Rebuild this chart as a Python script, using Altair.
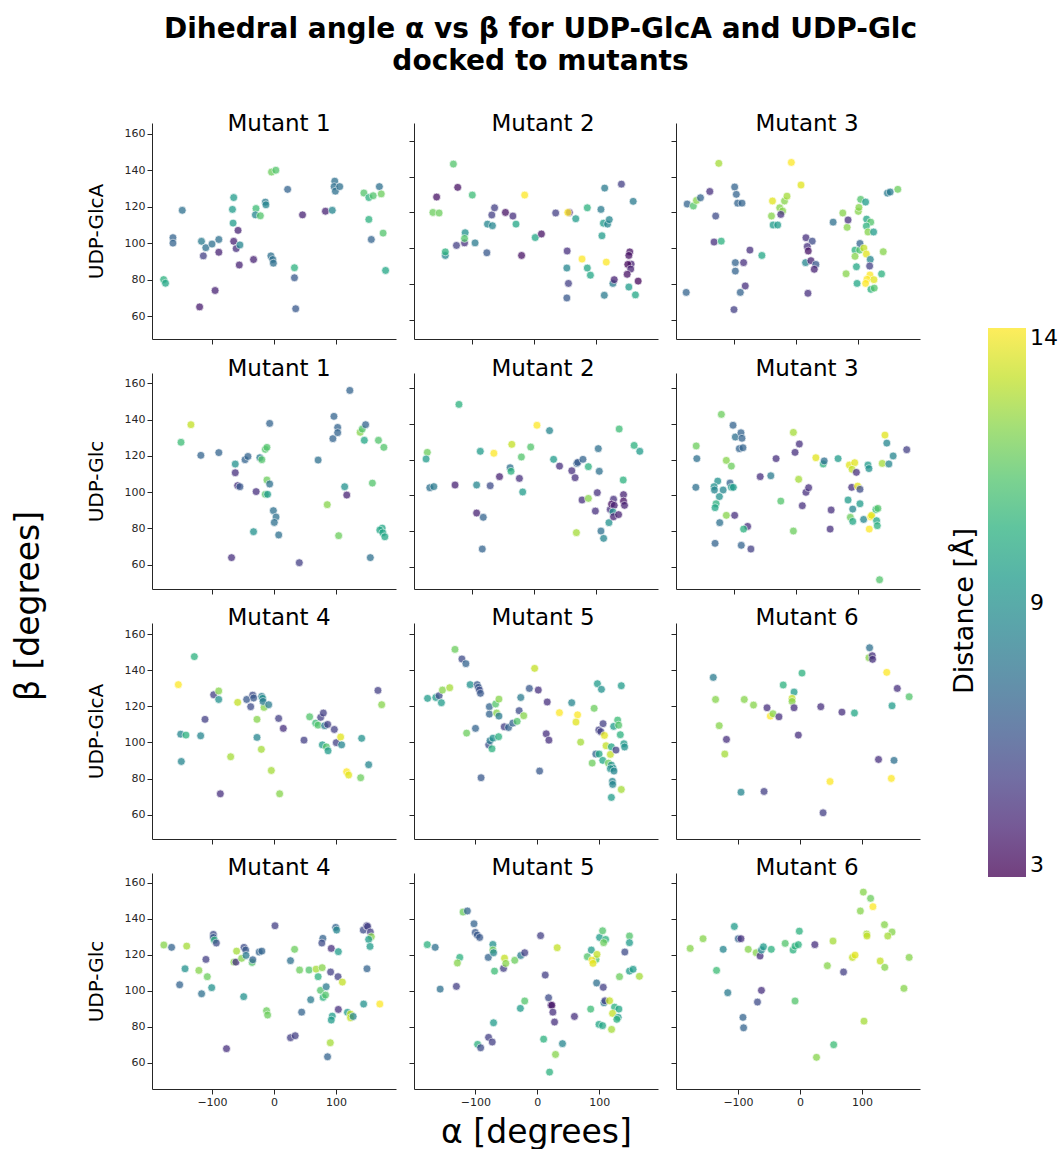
import altair as alt
import pandas as pd

TITLE_LINES = ["Dihedral angle α vs β for UDP-GlcA and UDP-Glc", "docked to mutants"]
ROW_LABELS = ["UDP-GlcA", "UDP-Glc", "UDP-GlcA", "UDP-Glc"]
PANEL_TITLES = [["Mutant 1", "Mutant 2", "Mutant 3"],
                ["Mutant 1", "Mutant 2", "Mutant 3"],
                ["Mutant 4", "Mutant 5", "Mutant 6"],
                ["Mutant 4", "Mutant 5", "Mutant 6"]]
X_TICKS = [-100, 0, 100]
Y_TICKS = [60, 80, 100, 120, 140, 160]
COLOR_TICKS = [3, 8.5, 14]
# axis extents of every panel, as they are drawn in the original figure
X_DOMAINS = [[[-196.8, 196.8], [-193.5, 200.0], [-193.0, 200.5]],
             [[-196.8, 196.8], [-193.5, 200.0], [-193.0, 200.5]],
             [[-196.8, 196.8], [-198.9, 194.7], [-200.0, 193.5]],
             [[-196.8, 196.8], [-198.9, 194.7], [-200.0, 193.5]]]
Y_DOMAINS = [[[47.4, 165.9], [49.4, 169.9], [49.4, 169.9]],
             [[46.6, 165.7], [47.5, 168.6], [47.5, 168.6]],
             [[46.6, 166.1], [46.6, 166.1], [46.6, 166.1]],
             [[45.4, 165.4], [45.4, 165.4], [45.4, 165.4]]]

# (alpha, beta, distance) per panel
M1_GLCA = [(-178, 80, 10), (-175, 78, 9.5), (-163, 103, 6.5), (-163, 100, 6.5), (-148, 118, 7),
           (-120, 65, 3.8), (-117, 101, 7.5), (-114, 93, 5), (-110, 97.5, 7), (-100, 99.5, 7),
           (-95, 74, 4), (-89, 102, 7), (-89, 95, 4), (-67, 118.5, 9), (-65, 125, 9), (-66, 111, 9),
           (-65, 101, 4), (-58, 107, 4), (-61, 97, 4.5), (-55, 99, 8), (-56, 88, 4), (-33, 91, 4),
           (-29, 119, 10.5), (-30, 115.5, 8), (-22, 115, 11), (-14, 122.5, 7.5), (-13, 121, 8),
           (-4, 139, 11.5), (3, 140, 11), (-5, 93, 7), (-2, 91, 7), (-1, 89, 7), (22, 129.5, 6.5),
           (33, 86.5, 10), (33, 81, 6), (35, 64, 6), (46, 115.5, 4), (83, 117.5, 4), (94, 118, 8),
           (98, 134, 7), (97, 131, 7), (99, 128.5, 7), (106, 131, 7), (145, 127.5, 11), (153, 125, 10),
           (160, 126, 11), (170, 131, 7), (173, 127, 11.5), (153, 113, 10), (157, 102, 6.5),
           (176, 105.5, 11), (180, 85, 9.5)]
M2_GLCA = [(-163, 120, 11.5), (-153, 119.7, 11.5), (-157, 128.6, 3.5), (-143, 96, 8), (-143, 98, 10),
           (-130, 147, 11), (-123, 134, 3.5), (-125, 101.6, 5), (-112, 103, 4.5), (-111, 108.7, 8.5),
           (-112, 105.5, 11), (-99.5, 129.7, 10.5), (-95, 103, 7.5), (-76, 97.5, 6), (-75, 113.5, 8),
           (-67, 112.6, 8), (-68, 118.6, 5), (-63.6, 122.6, 5), (-46, 120, 3.5), (-34, 118, 4.5),
           (-29, 113.5, 9.5), (-20, 96, 3.5), (-15, 129.7, 14), (2, 106, 9.5), (12, 108, 3.5),
           (35, 119.7, 5), (57, 120, 4), (54.5, 120, 14), (53.5, 98.5, 4.5), (53, 89, 8),
           (55.6, 80.4, 5), (53, 72.3, 6), (67.4, 116.5, 9), (77.5, 94, 14), (86, 122.6, 10),
           (86, 89, 9.5), (91, 85, 9.5), (108, 121.7, 7.5), (114, 133.6, 7.5), (112, 114, 9),
           (118.7, 113.5, 8), (121.4, 116, 8), (109.6, 107, 9), (116.6, 92.3, 14), (113.4, 73.8, 7.5),
           (127.3, 80.4, 7.5), (129.4, 82.5, 4), (141, 135.8, 5), (160, 126.2, 7.5), (154.5, 98, 3.5),
           (153, 96, 3.5), (156.7, 91.2, 4), (151.3, 91, 3.2), (156, 88.4, 4), (150.3, 85.5, 3.5),
           (153, 78.4, 9), (163.6, 74, 9.5), (168, 81.7, 3.2)]
M3_GLCA = [(-175, 124.7, 6.5), (-165, 123.6, 11), (-160, 126.7, 12), (-153.5, 128.2, 6.5),
           (-138.5, 131.7, 4.5), (-124, 147.4, 12.5), (-129, 118, 5.5), (-131.6, 103.5, 4.5),
           (-120, 104, 10), (-176.5, 75.4, 6.5), (-98.4, 134.2, 6.5), (-95.7, 130.1, 6.5),
           (-93.6, 125.2, 6.5), (-86.6, 125.2, 6.5), (-97.3, 92, 6.5), (-84, 92, 4.5), (-97.3, 87.3, 6.5),
           (-73.8, 99, 4.5), (-81.3, 79, 4.5), (-89.3, 75.4, 6.5), (-99.5, 65.8, 5), (-54.5, 96, 9.5),
           (-37.4, 126.4, 13.5), (-25.7, 122.6, 12), (-18, 126.4, 12), (-14, 129.1, 12.5),
           (-7, 147.9, 14), (8.6, 135.3, 13.5), (-39, 118, 12), (-21, 120.8, 12), (-24, 118.9, 4.5),
           (-36.4, 113, 9), (-29, 113, 9), (16.6, 105.9, 4.5), (26.7, 104, 5.5), (18.7, 101, 4.5),
           (20.3, 98.5, 3.5), (16, 92, 8), (24.6, 93.1, 4), (32.6, 91, 6), (30, 88.3, 4),
           (19.8, 74.9, 4.5), (60.4, 114.6, 7), (76, 119.7, 12), (83, 111.7, 12), (84.5, 115.8, 4.5),
           (81.3, 85.8, 12), (101, 120.6, 12), (102, 122.8, 12), (104.8, 127.3, 11), (112.8, 125.8, 9),
           (114.4, 116.3, 9.5), (121, 114.6, 11), (114, 112.4, 10), (116.6, 109.1, 12),
           (125.7, 109.1, 9), (95.7, 99, 10), (103.2, 99, 11), (95.7, 95.5, 12), (103.7, 102.7, 6.5),
           (110, 100.1, 13), (114, 96.8, 13.5), (120.3, 93.8, 8), (119.3, 90.1, 5), (98, 89.7, 9.5),
           (99, 80.4, 9.5), (119.8, 85.1, 14), (115, 82.7, 14), (112.8, 80.4, 14), (126.2, 82.5, 13.5),
           (121.4, 77.1, 10), (126.7, 77.8, 11), (138.5, 85.7, 10), (141.2, 98.1, 12),
           (148, 130.8, 7.5), (152.4, 131.4, 7.5), (164.7, 132.9, 11.5)]
M1_GLC = [(-150, 127.5, 10.5), (-134, 137.2, 13), (-118, 120.3, 6.5), (-89, 121.8, 6.5),
          (-62.5, 115.5, 8.5), (-62.5, 110.7, 4.5), (-58.7, 103.6, 4.5), (-55, 103, 6),
          (-68.5, 63.9, 4.5), (-46.7, 117.9, 6.5), (-42, 119.7, 6.5), (-33, 78.2, 8.5),
          (-28.8, 100.3, 4.5), (-22.8, 119, 7.5), (-19.6, 117.9, 11), (-14, 123.6, 11),
          (-11.4, 124.7, 11), (-7, 137.9, 6.5), (-11.4, 106.7, 11.5), (-7, 104.5, 7), (-14, 98.8, 11),
          (-10.3, 98.8, 9), (-1, 89.8, 7), (3.3, 86.3, 7), (0.5, 83.3, 7), (7.6, 76.4, 7),
          (40.8, 61.1, 5), (71.2, 117.7, 7), (85.9, 93.1, 12), (104.3, 76, 11.5), (95, 129.5, 6.5),
          (96.7, 141.8, 6.5), (102.7, 135.7, 6.5), (102.7, 132.8, 6.5), (122.3, 156.1, 6.5),
          (114, 103, 8.5), (117.4, 98.4, 4), (139, 133, 12), (142.4, 134.8, 11), (147.8, 137.2, 6.5),
          (145.7, 128.6, 9.5), (158.7, 105, 11), (155.4, 63.9, 7), (168.5, 128.6, 11),
          (177.2, 124.7, 11), (174.5, 80.2, 9.5), (170.7, 79.1, 9.5), (175.5, 77.6, 9.5),
          (178.8, 75.4, 9.5)]
M2_GLC = [(-172, 124.1, 11.5), (-174, 120.4, 9), (-168, 104.3, 7), (-161.5, 104.9, 7.5),
          (-121, 151, 10), (-127.3, 105.8, 4), (-86.6, 124.7, 9), (-92.5, 105.8, 8), (-92.5, 90.1, 4),
          (-81.8, 87.7, 6.5), (-83.4, 69.9, 6.5), (-70.6, 105.4, 5.5), (-64.7, 123.6, 14),
          (-55.6, 110.5, 4), (-38.5, 115.5, 7), (-37, 113.5, 10), (-35.8, 128.6, 13),
          (-23.5, 109.5, 4.5), (-20.3, 121.5, 11), (-18.2, 101.9, 9), (-5.3, 127.1, 11),
          (4.8, 139.3, 14), (25.1, 136.3, 8), (31.6, 120.2, 9), (41.2, 116.4, 4.5), (61, 113.8, 4.5),
          (66.3, 109.9, 4.5), (69, 117.9, 6.5), (70.6, 118.5, 6), (79, 120.2, 6.5), (87.7, 116.1, 10),
          (77.5, 97.4, 4.5), (87.7, 98.3, 12), (68.4, 79.1, 12.5), (103.7, 126.2, 7),
          (105.3, 113.5, 7), (102.1, 101.5, 4.5), (99, 91.2, 4.5), (108, 80, 7), (112.3, 75.9, 8),
          (120.9, 84.7, 8.5), (123, 92.1, 4.5), (128.3, 97.8, 4.5), (125.1, 95.1, 3.5),
          (129.4, 94.4, 4), (127.3, 90.7, 8.5), (128.3, 88, 4), (136.4, 89.2, 4), (144.4, 100.4, 4),
          (144.4, 96.8, 3.5), (146, 94.4, 4), (143.9, 108.6, 10), (137.4, 137.2, 10.5),
          (161.5, 128, 10), (170.6, 124.7, 9)]
M3_GLC = [(-160.4, 127.7, 11.5), (-159.4, 120.6, 7), (-161, 104.5, 7), (-119.8, 145.4, 11.5),
          (-101, 139.3, 6.5), (-97.3, 132.7, 7), (-88.2, 135.1, 6.5), (-86.6, 132, 6.5),
          (-90.9, 126.2, 6.5), (-85, 126.7, 6.5), (-111.8, 119.6, 12), (-103.7, 116.4, 11.5),
          (-125.7, 108, 8.5), (-131.6, 104.9, 8.5), (-131, 103, 8), (-117, 103, 8), (-123, 99.3, 8.5),
          (-105.9, 106.9, 6.5), (-103.7, 104.5, 9), (-100.5, 104.5, 9), (-128.3, 95.3, 10),
          (-130, 93.1, 9.5), (-111.8, 88.8, 12), (-98.4, 88.8, 4.5), (-122.5, 84.7, 7),
          (-77.5, 82.6, 4.5), (-84, 81.1, 10), (-130, 73.1, 6.5), (-87.7, 72, 6.5), (-72.2, 69.9, 5),
          (-57.2, 110.5, 4.5), (-40.1, 111, 7.5), (-31.6, 120.6, 4.5), (-24, 96.8, 11),
          (-3.7, 135.3, 12.5), (-1, 124.1, 4.5), (5.9, 128.8, 4.5), (4.8, 109, 12.5), (-3.7, 80, 11.5),
          (10.7, 94.2, 4.5), (16.6, 101.7, 4.5), (20.9, 104.3, 4.5), (32.6, 121.1, 13.5),
          (44.4, 117.6, 10), (46, 119.3, 7), (68.4, 120.6, 9), (57.2, 91.8, 4.5), (55.6, 81.1, 4.5),
          (86.6, 117, 13.5), (95.2, 118.3, 13.5), (90.9, 114.6, 13), (97.9, 112.9, 4.5),
          (90.4, 104.5, 4.5), (100, 105.2, 13.5), (103.7, 103.4, 5.5), (84.5, 97.4, 9), (92, 92.3, 8),
          (103.7, 95.3, 9), (88.2, 87.7, 11.5), (92, 85.4, 9.5), (109.6, 86.5, 8), (120.9, 88, 14),
          (122.5, 88.8, 13.5), (118.7, 81.1, 14), (129.4, 92.1, 10.5), (132.6, 92.7, 11),
          (130.5, 85.8, 9.5), (131.6, 83, 10), (116.6, 117, 9), (118.2, 115, 8.5),
          (139.6, 117.9, 12.5), (144, 133.8, 13.5), (147, 129.3, 8), (150.3, 117.6, 8),
          (157.2, 122.1, 8), (179.1, 125.6, 5), (135.3, 52.7, 11)]
M4_GLCA = [(-154.3, 132, 14), (-150.5, 104.6, 8), (-149.5, 89.5, 8), (-142, 104.1, 10),
           (-128.5, 147.5, 10), (-118.3, 103.7, 8), (-111.3, 112.8, 5), (-97.3, 126.4, 5),
           (-89.2, 128.5, 12), (-89.2, 123.8, 8.5), (-86.6, 71.6, 4.5), (-69.9, 92.1, 12.5),
           (-58.6, 122.2, 13), (-44.1, 123.8, 6), (-37.6, 119.8, 5.5), (-34.4, 126.2, 5.5),
           (-32.8, 124.6, 6), (-19.9, 125.5, 7.5), (-18.3, 124.4, 8.5), (-16.1, 119.4, 12),
           (-17.7, 122.7, 7.5), (-8.6, 120.9, 7.5), (-27.4, 112.8, 12), (-27.4, 102.8, 8),
           (-20.4, 96.2, 12.5), (-4.3, 84.5, 12.5), (9.1, 71.6, 12), (7.5, 113.3, 5), (15, 107.8, 4.5),
           (48.4, 101.3, 5), (57.5, 114.2, 11), (67.2, 110.7, 10.5), (71, 109.6, 11), (75.3, 113.9, 5),
           (79.6, 116.3, 5), (81.7, 109.3, 7.5), (86.6, 110, 5), (78, 98.7, 9), (84.5, 97.6, 11),
           (87.2, 95.4, 9), (97.3, 107.2, 5), (100.5, 99.9, 5), (107.5, 103, 13.5), (109.1, 98.7, 8),
           (117.2, 83.8, 14), (120.4, 82, 13.5), (139.8, 80.5, 11.5), (141.4, 102.3, 8.5),
           (152.7, 87.7, 8), (167.7, 128.8, 5), (173.7, 120.9, 12)]
M5_GLCA = [(-177, 124.4, 9), (-163.7, 124.9, 9), (-158.4, 125.9, 5.5), (-154.7, 122, 9),
           (-153, 129, 12), (-141.3, 130.3, 12.5), (-132.8, 151.5, 11.5), (-121.6, 146.2, 5.5),
           (-115.2, 143.6, 6.5), (-108.3, 132, 8.5), (-97, 132, 6), (-95, 130.5, 6), (-93.3, 129, 5.5),
           (-91.7, 127.2, 6), (-114, 105.2, 11.5), (-99.7, 107.8, 6.5), (-90.7, 80.5, 6),
           (-77.3, 119.8, 6.5), (-77.3, 115.7, 6.5), (-78.4, 98.7, 5.5), (-76.3, 101, 7.5),
           (-73.1, 96.5, 10), (-71.5, 102.4, 8.5), (-62.4, 103.2, 10), (-67.2, 121.3, 11),
           (-61.9, 124, 12), (-65.6, 116.3, 12), (-61.9, 114.6, 7.5), (-53.3, 108.7, 5),
           (-46.4, 108.3, 6.5), (-39.5, 110.7, 6.5), (-32.5, 111.7, 11), (-29.3, 117.6, 5.5),
           (-21.9, 114.8, 12), (-26.7, 124.9, 7.5), (-12.8, 129.9, 6), (-4.3, 141, 13), (1.6, 129, 4.5),
           (16, 122.4, 4.5), (14.4, 104.8, 4.5), (18.7, 101.3, 4.5), (3.7, 84.2, 6), (35.7, 116.5, 14),
           (55.5, 122, 8), (65, 115.3, 14), (62.4, 111.3, 13.5), (69.9, 100.2, 12.5),
           (91.7, 118.9, 11.5), (97, 132.5, 9), (103.5, 129.4, 8.5), (106.1, 110.4, 5),
           (99.2, 106.9, 5), (102.4, 106, 5), (108.3, 103.9, 13.5), (110.9, 98.2, 13),
           (94.4, 93.6, 6.5), (99.7, 93.6, 9.5), (88.5, 88.6, 11.5), (105.6, 90.1, 9.5),
           (114.7, 88.6, 11.5), (117.9, 93.4, 13), (119.5, 97.6, 9.5), (126.9, 95.8, 5),
           (119.5, 87.5, 8.5), (122.1, 85.8, 8.5), (117.9, 85.5, 8.5), (123.7, 84.2, 8),
           (121.1, 78.5, 8), (121.6, 76.8, 8), (119.5, 69.6, 9), (135.5, 74, 12.5), (123.2, 108.9, 9),
           (129.6, 112.4, 10.5), (131.2, 109.6, 11), (133.9, 104.3, 10), (139.7, 99.3, 9),
           (140.8, 97.5, 8.5), (135.5, 131.4, 9)]
M6_GLCA = [(-139.9, 136, 7.5), (-136.2, 123.8, 12), (-130.3, 109.3, 12), (-118.6, 101.7, 4.5),
           (-121.3, 93.6, 12.5), (-95.2, 72.5, 8), (-89.9, 123.8, 12), (-75, 120.7, 12),
           (-58, 72.9, 5), (-53.2, 119.2, 4.5), (-47.9, 114.6, 14), (-43.6, 115.9, 12),
           (-34, 114.2, 4.5), (-27.1, 131.8, 10), (-9.6, 127.9, 9), (-12.8, 124.4, 13),
           (-12.8, 122.7, 12), (-9.6, 119.2, 4.5), (3.2, 138.4, 10), (-2.7, 104.1, 4.5),
           (33.5, 119.8, 4.5), (37.2, 61.1, 5), (48.4, 78.4, 14), (67.6, 116.8, 4.5), (87.8, 116.3, 9.5),
           (112.2, 152.4, 7), (111.2, 146.9, 12), (116.5, 148, 4.5), (117, 146, 4.5), (139.9, 138.8, 14),
           (156.9, 129.9, 4.5), (176, 125.3, 11), (148.4, 120.3, 9), (126.6, 90.6, 4.5),
           (151.6, 90.1, 7), (147.3, 80.1, 14)]
M4_GLC = [(-177.7, 125.4, 12), (-165.2, 124.1, 6.5), (-140.8, 124.8, 12.5), (-143.5, 112.2, 8.5),
          (-152.2, 103.3, 6.5), (-121.2, 111.3, 12), (-109.8, 117.4, 5), (-107.6, 107.8, 11.5),
          (-116.8, 98.3, 7), (-100.5, 101.7, 8.5), (-97.8, 131.3, 5.5), (-97.8, 129.6, 6),
          (-96.2, 128.1, 10), (-93, 126.5, 5.5), (-76.6, 67.8, 4.5), (-64.7, 115.9, 12),
          (-61.4, 115.9, 4.5), (-60.3, 122, 12.5), (-52.2, 118, 12), (-48.4, 124.1, 5.5),
          (-45.7, 122.6, 6), (-45.1, 119.6, 7.5), (-35.3, 115.7, 11), (-34.2, 117.2, 6.5),
          (-48.9, 96.7, 8.5), (-23.9, 121.5, 6.5), (-19.6, 122, 6.5), (-12, 88.9, 11.5),
          (-10.3, 86.5, 11.5), (1.6, 136.1, 5), (26.6, 116.7, 7), (33.2, 123, 11.5), (26.6, 73.9, 5),
          (34.2, 75, 5), (44.6, 88.1, 6.5), (59.2, 95, 7.5), (41.3, 111.5, 11.5), (56.5, 111.5, 11),
          (67.9, 112, 12.5), (77.7, 112.8, 12), (71.2, 107.8, 10), (75, 100.2, 11), (84.2, 102.2, 7.5),
          (79.3, 96.3, 10), (83.2, 97.6, 11), (78.8, 129.1, 6.5), (77.2, 126.5, 5.5),
          (92.4, 123.5, 4.5), (91.3, 110.4, 5), (103.3, 107.8, 5), (99.5, 135.2, 6.5), (101, 133.7, 8),
          (103.8, 121.7, 9), (110.3, 104.8, 13), (103.8, 89.6, 4.5), (94, 85.9, 9), (92.4, 83.7, 9),
          (90.8, 71.1, 12.5), (86.4, 63.3, 6.5), (118.5, 88, 9), (123.4, 87, 13), (123.4, 85, 13),
          (127.7, 85.7, 8), (144, 133.7, 5.5), (149.5, 136.1, 5), (151, 135.7, 5), (155.4, 132.6, 5),
          (157, 130, 12), (152.7, 128.5, 9), (154.9, 124.6, 9), (150, 112.2, 6.5), (144.6, 92.6, 8.5),
          (170.7, 92.6, 14)]
M5_GLC = [(-177.5, 125.6, 10), (-164.7, 124.1, 7), (-156.7, 100.9, 7), (-125.1, 118.5, 10),
          (-128.9, 115.4, 12), (-130.5, 102.4, 5), (-119.8, 143.7, 11.5), (-112.8, 144.3, 6.5),
          (-102.1, 137.2, 6.5), (-100, 132.4, 6), (-96.8, 130.9, 6), (-93, 129.6, 6),
          (-96.3, 70.2, 10), (-91.4, 68.3, 5.5), (-78.6, 74.1, 5), (-72.7, 71.5, 5), (-70.6, 82.2, 9),
          (-79.1, 118.5, 6.5), (-71.7, 125.7, 8.5), (-71.7, 122.6, 11.5), (-70.6, 121.1, 8),
          (-69, 110.9, 10.5), (-54.5, 112.4, 5), (-52.9, 118.1, 13), (-50.8, 115.2, 12),
          (-36.4, 116.9, 11.5), (-26.7, 119.6, 7.5), (-20.3, 121.1, 5), (-27.3, 90.2, 9),
          (-20.3, 94.3, 11), (5.3, 130.6, 5), (12.8, 108.7, 5), (32.1, 123.9, 13), (18.2, 96.1, 5.5),
          (21.9, 92, 4.5), (23.5, 91.9, 3.5), (25.1, 88.1, 4.5), (27.8, 82.6, 4.5), (59.9, 85.7, 4.5),
          (10.2, 73.1, 10), (40.6, 70.6, 8), (29.4, 64.6, 12), (19.8, 54.8, 10), (80.7, 118.9, 11),
          (87.2, 122.6, 9), (94.7, 117.4, 11), (88.2, 117, 14), (89.8, 115.2, 13.5), (96.3, 120.2, 13),
          (100.5, 129.6, 9), (105.3, 133.3, 11), (110.2, 128.5, 10), (107, 126.7, 11.5),
          (95.7, 104.3, 7), (106.4, 101.9, 5), (107.5, 93.3, 7.5), (109.1, 94.4, 5), (116.6, 94.4, 13),
          (86.1, 89.8, 10.5), (99.5, 81.3, 9.5), (105.3, 80.6, 9.5), (124.6, 90.9, 10),
          (131.6, 89.8, 9.5), (121.4, 87.4, 13), (130.5, 85.2, 9), (128.3, 84.1, 10),
          (119.8, 78.5, 12.5), (141.2, 121.5, 5.5), (148.7, 130.4, 11), (148.7, 126.7, 9),
          (148.7, 110.9, 9), (154.5, 111.9, 9), (132.6, 107.8, 11.5), (164.7, 108, 12.5)]
M6_GLC = [(-177.1, 123.5, 12), (-156.4, 128.9, 12), (-134.6, 111.3, 10.5), (-123.9, 123, 8),
          (-105.9, 135.7, 9), (-99.5, 128.9, 6.5), (-95.2, 128.9, 4.5), (-116.5, 98.9, 7.5),
          (-92, 85.2, 6.5), (-91, 79.4, 6.5), (-83.5, 123, 12), (-70.7, 121.1, 12), (-68.6, 93.7, 5.5),
          (-62.2, 100.2, 4.5), (-64.4, 119.3, 4.5), (-62.2, 122.6, 8), (-59, 124.4, 9),
          (-46.3, 123, 10), (-23.9, 126.3, 11), (-11.2, 122.6, 10), (-8, 124.8, 10), (-2.7, 125.6, 10),
          (-1.1, 133.1, 10), (-8, 94.3, 11), (23.9, 125.6, 4.5), (44.1, 113.9, 12), (53.2, 127.6, 12.5),
          (54.3, 70, 10.5), (26.6, 63, 12), (70.2, 110.4, 5), (84.6, 118.5, 13), (88.8, 119.8, 13.5),
          (97.3, 144.3, 12), (102.1, 154.8, 12), (113.8, 151.3, 11.5), (117.6, 146.7, 14),
          (107.4, 131.5, 12.5), (108, 130.4, 13), (103.2, 83.1, 12.5), (136.2, 136.7, 12),
          (148.4, 132.6, 12), (141.5, 130.4, 12.5), (129.3, 116.5, 13), (136.7, 113, 12),
          (176, 118.5, 12), (167.6, 101.3, 12)]

PANELS = [[M1_GLCA, M2_GLCA, M3_GLCA],
          [M1_GLC, M2_GLC, M3_GLC],
          [M4_GLCA, M5_GLCA, M6_GLCA],
          [M4_GLC, M5_GLC, M6_GLC]]

FONT = "DejaVu Sans"
INK = "#262626"
TITLE_OFFSETS = [-31, -26, -25, -25]
TITLE_DX = [5, 7, 9]

legend = alt.Legend(
    orient="none", legendX=836, legendY=205, title=None,
    gradientLength=549, gradientThickness=38, gradientStrokeWidth=0,
    values=COLOR_TICKS, labelExpr="round(datum.value)", labelFontSize=22, labelFont=FONT,
    labelColor="black", labelOffset=4, direction="vertical",
)


def panel(points, r, c):
    df = pd.DataFrame(points, columns=["alpha", "beta", "dist"])
    x_title = "α [degrees]" if (r == 3 and c == 1) else None
    y_title = ROW_LABELS[r] if c == 0 else None
    return alt.Chart(df).mark_circle(size=62, opacity=0.75, stroke="white", strokeWidth=0.7).encode(
        x=alt.X("alpha:Q", scale=alt.Scale(domain=X_DOMAINS[r][c], nice=False, zero=False),
                axis=alt.Axis(values=X_TICKS, labels=(r == 3), title=x_title,
                              titleFontSize=33, titleFontWeight="normal", titleColor="black",
                              titlePadding=9)),
        y=alt.Y("beta:Q", scale=alt.Scale(domain=Y_DOMAINS[r][c], nice=False, zero=False),
                axis=alt.Axis(values=Y_TICKS, labels=(c == 0), title=y_title,
                              titleFontSize=20, titleFontWeight="normal", titleColor="black",
                              titlePadding=18)),
        color=alt.Color("dist:Q", scale=alt.Scale(scheme="viridis", domain=[3, 14]), legend=legend),
    ).properties(
        width=244, height=216,
        title=alt.TitleParams(PANEL_TITLES[r][c], fontSize=23, fontWeight="normal", font=FONT,
                              color="black", baseline="alphabetic", offset=TITLE_OFFSETS[r],
                              dx=TITLE_DX[c]),
    )


cells = [panel(PANELS[r][c], r, c) for r in range(4) for c in range(3)]
grid = alt.concat(*cells, columns=3, spacing={"row": 34, "column": 18}, bounds="flush").properties(
    title=alt.TitleParams("β [degrees]", orient="left", fontSize=33, fontWeight="normal",
                          font=FONT, color="black", offset=40, anchor="middle", dx=25)
)
mid = alt.hconcat(grid).properties(
    title=alt.TitleParams("Distance [Å]", orient="right", angle=270, fontSize=27,
                          fontWeight="normal", font=FONT, color="black", offset=5,
                          anchor="middle", dx=20)
)

chart = alt.hconcat(mid).properties(
    title=alt.TitleParams(TITLE_LINES, fontSize=28, fontWeight="bold", font=FONT, color="black",
                          anchor="middle", lineHeight=32, dx=5, offset=37),
    padding={"left": 13, "top": 16, "right": 4, "bottom": 3},
).configure_view(stroke=None).configure_axis(
    grid=False, domainColor=INK, tickColor=INK, labelColor=INK, labelFont=FONT,
    labelFontSize=11, titleFont=FONT, tickSize=5, domainWidth=1, tickWidth=1, labelPadding=2,
).configure_title(font=FONT)

chart.save("out.html", embed_options={"renderer": "svg", "actions": False})
